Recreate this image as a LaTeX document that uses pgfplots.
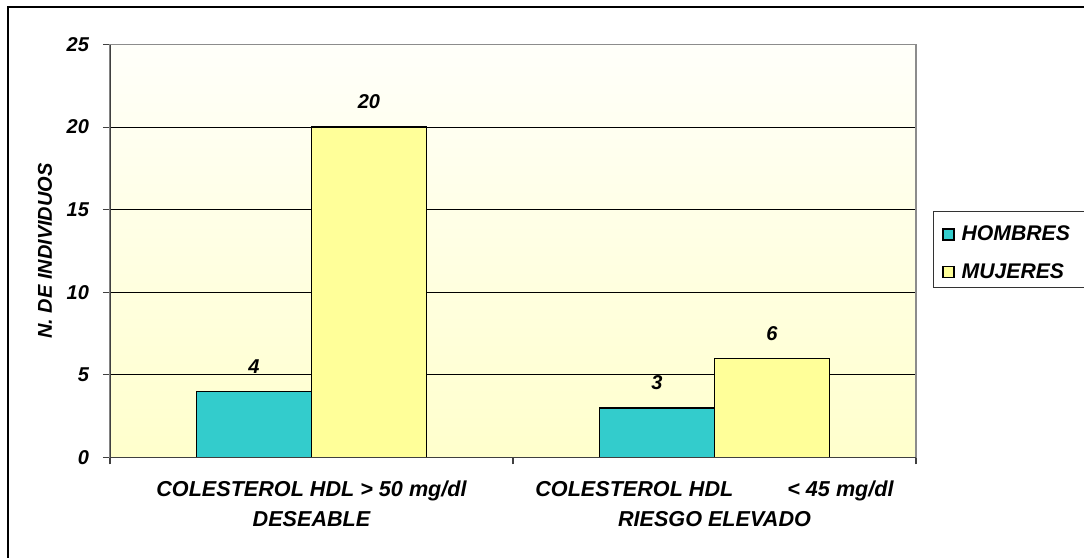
\documentclass[border=0pt]{standalone}
\usepackage{fontspec}
\setmainfont{Liberation Sans}
\usepackage{pgfplots}
\pgfplotsset{compat=1.18}

\definecolor{hombres}{RGB}{51,204,204}
\definecolor{mujeres}{RGB}{255,255,153}
\definecolor{bgbottom}{RGB}{255,255,204}
\definecolor{bgtop}{RGB}{255,255,250}

\newcommand{\bi}{\bfseries\itshape}

\begin{document}
\begin{tikzpicture}[x=1pt,y=1pt]
\useasboundingbox (-55,-50.25) rectangle (487,228.75);
\begin{axis}[
  at={(0,0)}, anchor=south west, scale only axis,
  width=403pt, height=206.5pt,
  xmin=-0.5, xmax=1.5, ymin=0, ymax=25,
  ybar, bar width=57.5pt,
  axis background/.style={top color=bgtop, bottom color=bgbottom},
  axis line style={draw=black!45, line width=0.6pt},
  ytick={0,5,...,25},
  ymajorgrids, major grid style={black, line width=0.5pt},
  tick align=outside, major tick length=3.5pt, minor tick length=3.5pt,
  tick style={black!75, line width=0.6pt},
  xtick pos=lower, ytick pos=left,
  xtick={0,1}, major x tick style={draw=none},
  minor xtick={-0.5,0.5,1.5},
  xticklabels={{COLESTEROL HDL > 50 mg/dl\\DESEABLE},
               {COLESTEROL HDL\hspace{27pt}< 45 mg/dl\\RIESGO ELEVADO}},
  xticklabel style={align=center, font=\fontsize{10.8}{15}\selectfont\bi, yshift=-4.5pt},
  yticklabel style={font=\fontsize{10}{12}\selectfont\bi, xshift=-3.5pt},
  /pgf/number format/assume math mode=true,
  ylabel={N. DE INDIVIDUOS},
  every axis y label/.style={at={(rel axis cs:0,0.5)}, xshift=-32.5pt, rotate=90, anchor=center},
  ylabel style={font=\fontsize{10}{12}\selectfont\bi},
  nodes near coords,
  nodes near coords style={font=\fontsize{10}{12}\selectfont\bi, anchor=center, yshift=12.5pt},
  legend style={draw=none, fill=none, inner sep=0pt, at={(1.0323,0.494)}, anchor=west,
    row sep=6pt, font=\fontsize{10.6}{12}\selectfont\bi, cells={anchor=west},
    /tikz/every odd column/.append style={column sep=1.5pt}},
]
\addplot[fill=hombres, draw=black, line width=0.75pt, bar shift=-28.75pt,
  legend image code/.code={\draw[fill=hombres, draw=black, line width=0.6pt] (0pt,-2.75pt) rectangle (5.5pt,2.75pt);}]
  coordinates {(0,4) (1,3)};
\addplot[fill=mujeres, draw=black, line width=0.75pt, bar shift=28.75pt,
  legend image code/.code={\draw[fill=mujeres, draw=black, line width=0.6pt] (0pt,-2.75pt) rectangle (5.5pt,2.75pt);}]
  coordinates {(0,20) (1,6)};
\legend{HOMBRES, MUJERES}
\draw[black!75, line width=0.6pt] (rel axis cs:0,1) -- (rel axis cs:0,0) -- (rel axis cs:1,0);
\end{axis}
% legend frame and outer chart frame
\draw[black!80, line width=0.5pt] (411.5,84.75) rectangle (530,122.75);
\draw[black, line width=1pt] (-50.85,-90) rectangle (560,225.4);
\end{tikzpicture}
\end{document}
